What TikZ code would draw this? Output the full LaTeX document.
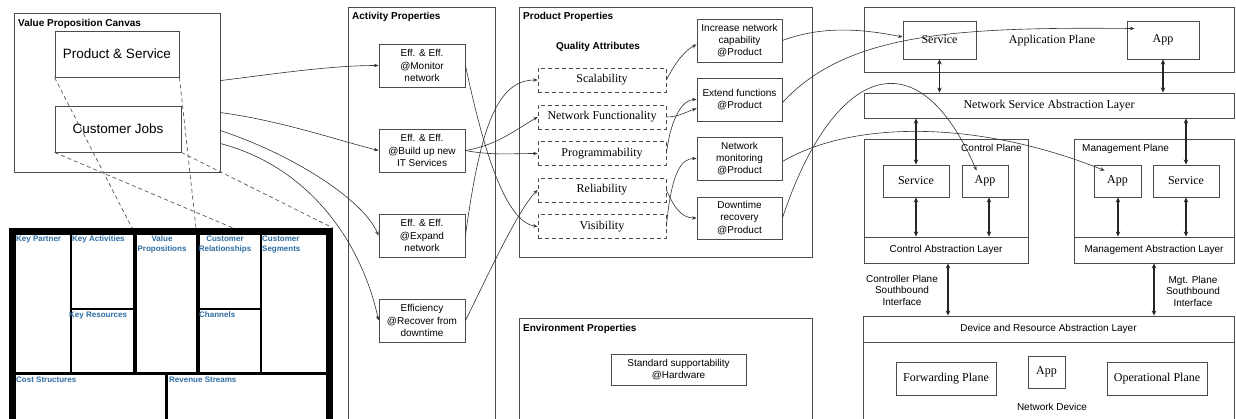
\documentclass[tikz,border=0pt]{standalone}
\usepackage{fontspec}
\setmainfont{Liberation Serif}
\setsansfont{Liberation Sans}
\usetikzlibrary{arrows.meta,calc}
\definecolor{bmcblue}{RGB}{46,109,164}
\definecolor{edge}{RGB}{75,75,75}
\begin{document}
\begin{tikzpicture}[x=1pt,y=-1pt,
  frame/.style={draw=edge,line width=0.9pt,inner sep=0pt},
  sbox/.style={draw=edge,line width=0.9pt,align=center,inner sep=0pt,font=\sffamily\fontsize{10}{12.3}\selectfont},
  bigbox/.style={draw=edge,line width=0.9pt,align=center,inner sep=0pt,font=\sffamily\fontsize{13.5}{16}\selectfont},
  qbox/.style={draw=edge,line width=0.8pt,dash pattern=on 4pt off 3pt,inner sep=0pt,font=\fontsize{12}{14}\selectfont},
  tbox/.style={draw=edge,line width=0.9pt,inner sep=0pt,font=\fontsize{12}{14}\selectfont},
  ttl/.style={font=\sffamily\bfseries\fontsize{10}{12}\selectfont,inner sep=0pt},
  stxt/.style={font=\sffamily\fontsize{10}{11.5}\selectfont,inner sep=0pt,align=center},
  blab/.style={font=\sffamily\bfseries\fontsize{8}{9.5}\selectfont,text=bmcblue,inner sep=0pt},
  conn/.style={-{Stealth[length=4.5pt,width=3.5pt]},line width=0.6pt,draw=black!80},
  dbl/.style={{Stealth[length=5pt,width=4.5pt]}-{Stealth[length=5pt,width=4.5pt]},line width=1.3pt,draw=black!85},
  dline/.style={draw=black!65,line width=0.7pt,dash pattern=on 4pt off 3pt}]
\useasboundingbox (0,0) rectangle (1236,419);
\fill[white] (0,0) rectangle (1236,419);
\clip (0,0) rectangle (1236,419);

% ---------------- Value Proposition Canvas ----------------
\node[frame,minimum width=206,minimum height=159] (vpc) at (117,92.5) {};
\node[ttl,anchor=base west] (vpct) at (18,26.5) {Value Proposition Canvas};
\node[bigbox,minimum width=124,minimum height=46] (ps) at (117,54) {Product \& Service};
\node[bigbox,minimum width=126,minimum height=46] (cj) at (118,129) {Customer Jobs};

% ---------------- Business Model Canvas ----------------
\draw[line width=2pt] (71,235) -- (71,373);
\draw[line width=3.3pt] (135,235) -- (135,373);
\draw[line width=3.5pt] (198,235) -- (198,373);
\draw[line width=2pt] (261,235) -- (261,373);
\draw[line width=3pt] (13,373.5) -- (330,373.5);
\draw[line width=2pt] (71,309) -- (135,309);
\draw[line width=2pt] (198,309) -- (261,309);
\draw[line width=3pt] (166,373) -- (166,440);
\draw[line width=6.7pt] (12.7,231.7) rectangle (329.7,445);
\node[blab,anchor=base west] (kp) at (16,242) {Key Partner};
\node[blab,anchor=base west] (ka) at (72,242) {Key Activities};
\node[blab,anchor=north,align=center] (vp) at (162,236) {Value\\Propositions};
\node[blab,anchor=north,align=center] (cr) at (225,236) {Customer\\Relationships};
\node[blab,anchor=north west,align=left] (cs) at (262,236) {Customer\\Segments};
\node[blab,anchor=base west] (kr) at (69,318) {Key Resources};
\node[blab,anchor=base west] (ch) at (199,318) {Channels};
\node[blab,anchor=base west] (cost) at (16,382) {Cost Structures};
\node[blab,anchor=base west] (rev) at (169,382) {Revenue Streams};

\coordinate (bmcA) at (132,228);
\coordinate (bmcB) at (196,228);
\coordinate (bmcC) at (233,228);
\coordinate (bmcD) at (333,228);
\draw[dline] (ps.south west) -- (bmcA);
\draw[dline] (ps.south east) -- (bmcB);
\draw[dline] (cj.south west) -- (bmcC);
\draw[dline] (cj.south east) -- (bmcD);

% ---------------- Activity Properties ----------------
\node[frame,minimum width=147,minimum height=430] (actf) at (421.5,222) {};
\node[ttl,anchor=base west] (actt) at (352,20) {Activity Properties};
\node[sbox,minimum width=86,minimum height=43] (mon) at (422,65.5) {Eff. \& Eff.\\@Monitor\\network};
\node[sbox,minimum width=86,minimum height=43] (build) at (422,150.5) {Eff. \& Eff.\\@Build up new\\IT Services};
\node[sbox,minimum width=86,minimum height=43] (expand) at (422,235.5) {Eff. \& Eff.\\@Expand\\network};
\node[sbox,minimum width=86,minimum height=43] (recover) at (422,320.5) {Efficiency\\@Recover from\\downtime};

% ---------------- Product Properties ----------------
\node[frame,minimum width=293,minimum height=250] (prodf) at (665.5,132) {};
\node[ttl,anchor=base west] (prodt) at (523,20) {Product Properties};
\node[ttl,anchor=base] (qat) at (598,50) {Quality Attributes};
\node[qbox,minimum width=128,minimum height=24] (scal) at (602,80) {Scalability};
\node[qbox,minimum width=128,minimum height=24] (netf) at (602,117) {Network Functionality};
\node[qbox,minimum width=128,minimum height=24] (prog) at (602,153.5) {Programmability};
\node[qbox,minimum width=128,minimum height=24] (rel) at (602,190) {Reliability};
\node[qbox,minimum width=128,minimum height=24] (vis) at (602,226.5) {Visibility};
\node[sbox,minimum width=85,minimum height=43] (inc) at (739.5,40.5) {Increase network\\capability\\@Product};
\node[sbox,minimum width=85,minimum height=43] (ext) at (739.5,99.5) {Extend functions\\@Product};
\node[sbox,minimum width=85,minimum height=43] (nmon) at (739.5,158.5) {Network\\monitoring\\@Product};
\node[sbox,minimum width=85,minimum height=42] (down) at (739.5,218) {Downtime\\recovery\\@Product};

% ---------------- Environment Properties ----------------
\node[frame,minimum width=293,minimum height=130] (envf) at (665.5,383) {};
\node[ttl,anchor=base west] (envt) at (523,331) {Environment Properties};
\node[sbox,minimum width=135,minimum height=31] (std) at (678.5,369.5) {Standard supportability\\@Hardware};

% ---------------- SDN architecture ----------------
\node[frame,minimum width=370,minimum height=65] (apf) at (1049,39.5) {};
\node[tbox,minimum width=73,minimum height=38] (svcA) at (939.5,40) {Service};
\node[tbox,minimum width=72,minimum height=38] (appA) at (1163,40) {App};
\node[font=\fontsize{12}{14}\selectfont,inner sep=0pt] (apt) at (1052,41) {Application Plane};
\node[tbox,minimum width=370,minimum height=25] (nsal) at (1049,105.5) {Network Service Abstraction Layer};

\node[frame,minimum width=164,minimum height=124] (cpf) at (946,201) {};
\node[sbox,minimum width=164,minimum height=26] (cal) at (946,250) {Control Abstraction Layer};
\node[font=\sffamily\fontsize{10}{12}\selectfont,inner sep=0pt,anchor=base east] (cpt) at (1022,152) {Control Plane};
\node[tbox,minimum width=66,minimum height=32] (svcC) at (916,181) {Service};
\node[tbox,minimum width=46,minimum height=32] (appC) at (985,181) {App};

\node[frame,minimum width=160,minimum height=124] (mpf) at (1154,201) {};
\node[sbox,minimum width=160,minimum height=26] (mal) at (1154,250) {Management Abstraction Layer};
\node[font=\sffamily\fontsize{10}{12}\selectfont,inner sep=0pt,anchor=base west] (mpt) at (1082,152) {Management Plane};
\node[tbox,minimum width=47,minimum height=32] (appM) at (1117.5,181) {App};
\node[tbox,minimum width=66,minimum height=32] (svcM) at (1186,181) {Service};

\node[frame,minimum width=371,minimum height=130] (devf) at (1048.5,381) {};
\node[sbox,minimum width=371,minimum height=26] (dral) at (1048.5,329) {Device and Resource Abstraction Layer};
\node[tbox,minimum width=100,minimum height=33] (fwd) at (946,378.5) {Forwarding Plane};
\node[tbox,minimum width=37,minimum height=32,anchor=north] (appD) at (1046.5,356) {\raisebox{3pt}{App}};
\node[tbox,minimum width=100,minimum height=33] (ops) at (1157,378.5) {Operational Plane};
\node[stxt,anchor=base] (nd) at (1052,410) {Network Device};
\node[stxt] (cpsb) at (902,290) {Controller Plane\\Southbound\\Interface};
\node[stxt] (mpsb) at (1193,291) {Mgt. Plane\\Southbound\\Interface};

% double arrows
\draw[dbl] (svcA.south) -- (svcA.south |- nsal.north);
\draw[dbl] (appA.south) -- (appA.south |- nsal.north);
\draw[dbl] (svcC.north |- nsal.south) -- (svcC.north);
\draw[dbl] (svcM.north |- nsal.south) -- (svcM.north);
\draw[dbl] (svcC.south) -- (svcC.south |- cal.north);
\draw[dbl] ([xshift=4pt]appC.south) -- ([xshift=4pt]appC.south |- cal.north);
\draw[dbl] ([xshift=0.5pt]appM.south) -- ([xshift=0.5pt]appM.south |- mal.north);
\draw[dbl] (svcM.south) -- (svcM.south |- mal.north);
\draw[dbl] ([xshift=2pt]cal.south) -- ([xshift=2pt]cal.south |- dral.north);
\draw[dbl] (mal.south) -- (mal.south |- dral.north);

% ---------------- connectors ----------------
\draw[conn] ($(vpc.north east)+(0,68)$) .. controls +(50,-6) and +(-50,0) .. (mon.west);
\draw[conn] ($(vpc.north east)+(0,100)$) .. controls +(60,8) and +(-40,-10) .. (build.west);
\draw[conn] ($(vpc.north east)+(0,118)$) .. controls +(75,25) and +(-15,-35) .. (expand.west);
\draw[conn] ($(vpc.north east)+(0,131)$) .. controls +(95,25) and +(-15,-70) .. (recover.west);

\draw[conn] (mon.east) .. controls +(15,70) and +(-35,-5) .. (vis.west);
\draw[conn] (build.east) .. controls +(30,-5) and +(-25,15) .. (netf.west);
\draw[conn] (build.east) .. controls +(25,5) and +(-25,0) .. (prog.west);
\draw[conn] (expand.east) .. controls +(15,-110) and +(-40,0) .. (scal.west);
\draw[conn] (recover.east) .. controls +(20,-40) and +(-20,20) .. (rel.west);

\draw[conn] (scal.east) .. controls +(10,-20) and +(-10,5) .. ($(inc.west)+(0,4)$);
\draw[conn] (netf.east) .. controls +(12,0) and +(-12,4) .. ($(ext.west)+(0,9)$);
\draw[conn] (prog.east) .. controls +(5,-40) and +(-12,0) .. (ext.west);
\draw[conn] (rel.east) .. controls +(8,18) and +(-15,0) .. (down.west);
\draw[conn] (vis.east) .. controls +(5,-55) and +(-15,0) .. (nmon.west);

\draw[conn] (inc.east) .. controls +(40,-15) and +(-40,-8) .. ($(svcA.west)+(0,-3)$);
\draw[conn] ($(ext.east)+(0,3)$) .. controls +(63,-68) and +(-185,-2) .. ($(appA.north west)+(8,8)$);
\draw[conn] ($(nmon.east)+(0,3)$) .. controls +(68,-40) and +(-130,-52) .. ($(appM.north west)+(11,6)$);
\draw[conn] (down.east) .. controls +(48,-145) and +(-62,-142) .. ($(appC.north west)+(15,6)$);
\end{tikzpicture}
\end{document}
